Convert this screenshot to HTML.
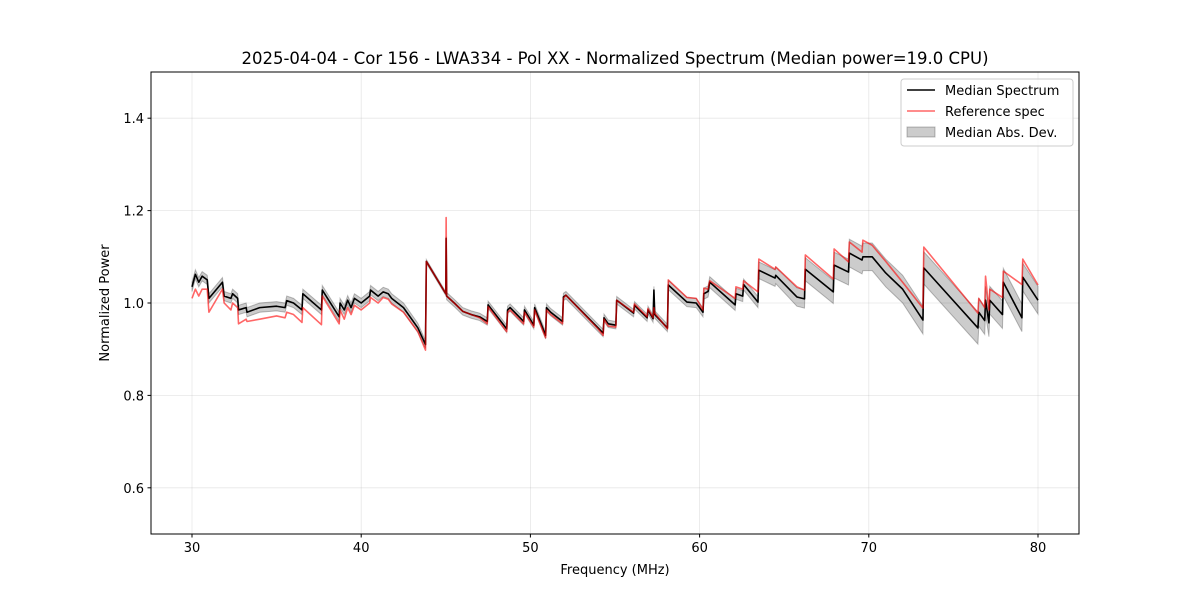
<!DOCTYPE html>
<html><head><meta charset="utf-8"><style>
body{margin:0;background:#fff;}
svg{display:block;font-family:"DejaVu Sans","Liberation Sans",sans-serif;}
</style></head><body>
<svg id="chart" width="1200" height="600">
<text x="615" y="64" text-anchor="middle" font-size="16.5">2025-04-04 - Cor 156 - LWA334 - Pol XX - Normalized Spectrum (Median power=19.0 CPU)</text>
<g id="grid"></g>
<g id="series"></g>
<rect x="151" y="72" width="928" height="462" fill="none" stroke="#000" stroke-width="1"/>
<g id="axes"></g>
<text x="615" y="574" text-anchor="middle" font-size="13">Frequency (MHz)</text>
<text transform="translate(109,303) rotate(-90)" text-anchor="middle" font-size="13">Normalized Power</text>
<g>
<rect x="901" y="79" width="172" height="67" rx="3" fill="#fff" fill-opacity="0.8" stroke="#ccc"/>
<line x1="907" y1="90" x2="935" y2="90" stroke="#000" stroke-width="1.5"/>
<text x="945" y="95" font-size="13">Median Spectrum</text>
<line x1="907" y1="111" x2="935" y2="111" stroke="#ff0000" stroke-opacity="0.6" stroke-width="1.5"/>
<text x="945" y="116" font-size="13">Reference spec</text>
<rect x="907" y="127" width="28" height="10" fill="#000" fill-opacity="0.2" stroke="#000" stroke-opacity="0.25"/>
<text x="945" y="137" font-size="13">Median Abs. Dev.</text>
</g>
</svg>
<script>
const freqs=[30.0,30.2,30.4,30.6,30.9,31.0,31.8,31.9,32.3,32.4,32.7,32.75,33.2,33.25,34.0,35.0,35.5,35.6,36.0,36.5,36.55,37.65,37.7,38.7,38.75,39.0,39.2,39.4,39.6,40.0,40.5,40.55,41.0,41.3,41.6,41.8,42.5,43.35,43.8,43.85,45.0,45.02,45.05,45.5,46.0,46.5,47.0,47.45,47.5,48.6,48.65,48.8,49.6,49.65,50.2,50.25,50.9,50.95,51.2,51.9,51.95,52.1,54.0,54.3,54.35,54.6,55.05,55.1,56.1,56.15,56.9,56.95,57.25,57.3,57.35,58.1,58.15,59.25,59.8,60.2,60.25,60.5,60.6,62.1,62.15,62.55,62.6,63.45,63.5,64.46,64.5,65.75,66.2,66.25,67.9,67.95,68.8,68.85,69.6,69.65,70.2,71.0,72.0,73.2,73.25,76.45,76.5,76.85,76.9,77.1,77.15,77.9,77.95,79.05,79.1,80.0];
const medianVals=[1.035,1.062,1.045,1.058,1.050,1.010,1.045,1.015,1.010,1.020,1.010,0.985,0.990,0.980,0.990,0.993,0.990,1.005,1.000,0.985,1.020,0.985,1.028,0.970,1.000,0.985,1.006,0.990,1.010,1.000,1.015,1.028,1.015,1.024,1.020,1.010,0.990,0.946,0.910,1.090,1.020,1.140,1.015,1.000,0.982,0.975,0.970,0.960,0.996,0.944,0.985,0.990,0.960,0.985,0.952,0.990,0.930,0.990,0.980,0.960,1.013,1.017,0.946,0.935,0.968,0.955,0.952,1.006,0.978,0.995,0.968,0.985,0.966,1.028,0.975,0.946,1.039,1.002,1.000,0.980,1.020,1.025,1.045,0.996,1.020,1.015,1.040,1.002,1.071,1.054,1.060,1.013,1.009,1.073,1.024,1.082,1.067,1.108,1.093,1.100,1.100,1.065,1.030,0.963,1.076,0.946,0.980,0.962,1.006,0.957,1.006,0.975,1.045,0.968,1.056,1.006];
const refVals=[1.010,1.030,1.015,1.030,1.030,0.980,1.030,1.000,0.985,1.000,0.990,0.955,0.965,0.960,0.965,0.972,0.968,0.980,0.975,0.958,0.990,0.953,1.015,0.955,0.985,0.965,0.990,0.975,0.995,0.985,1.000,1.012,1.000,1.012,1.008,0.998,0.980,0.938,0.898,1.090,1.020,1.185,1.015,1.000,0.982,0.975,0.968,0.955,0.992,0.938,0.980,0.985,0.955,0.980,0.948,0.985,0.925,0.985,0.975,0.955,1.010,1.017,0.944,0.930,0.965,0.950,0.948,1.006,0.980,0.998,0.970,0.988,0.968,0.990,0.978,0.944,1.050,1.012,1.010,0.985,1.032,1.030,1.048,1.010,1.035,1.030,1.048,1.024,1.095,1.073,1.078,1.035,1.028,1.104,1.052,1.117,1.089,1.132,1.110,1.136,1.125,1.090,1.045,0.989,1.121,0.978,1.010,0.990,1.058,0.985,1.030,1.012,1.069,1.040,1.095,1.039];
const madVals=[0.010,0.010,0.010,0.010,0.010,0.010,0.010,0.010,0.010,0.010,0.010,0.010,0.010,0.010,0.010,0.010,0.010,0.010,0.010,0.010,0.010,0.010,0.010,0.010,0.010,0.010,0.010,0.010,0.010,0.010,0.010,0.010,0.010,0.010,0.010,0.010,0.010,0.010,0.008,0.004,0.004,0.004,0.008,0.008,0.008,0.008,0.008,0.008,0.008,0.008,0.008,0.008,0.008,0.008,0.008,0.008,0.008,0.008,0.008,0.008,0.008,0.008,0.008,0.008,0.008,0.008,0.008,0.008,0.008,0.008,0.008,0.008,0.008,0.008,0.008,0.008,0.010,0.010,0.010,0.010,0.012,0.012,0.012,0.012,0.012,0.012,0.012,0.012,0.018,0.018,0.018,0.020,0.020,0.025,0.025,0.028,0.028,0.030,0.030,0.030,0.030,0.030,0.030,0.030,0.035,0.035,0.030,0.030,0.030,0.030,0.030,0.030,0.030,0.030,0.030,0.030];
const xTicks=[30,40,50,60,70,80];
const yTicks=[0.6,0.8,1.0,1.2,1.4];

const NS='http://www.w3.org/2000/svg';
const X0=151,X1=1079,Y0=72,Y1=534;
function xs(f){return 192+(f-30)*(1038-192)/50;}
function ys(v){return Y1-(v-0.5)*(Y1-Y0)/1.0;}
function mk(tag,attrs,parent){const e=document.createElementNS(NS,tag);for(const k in attrs)e.setAttribute(k,attrs[k]);parent.appendChild(e);return e;}
const grid=document.getElementById('grid'),axes=document.getElementById('axes'),series=document.getElementById('series');
xTicks.forEach(t=>{const x=xs(t);
 const g=mk('line',{x1:x,x2:x,y1:Y0,y2:Y1,stroke:'#b0b0b0','stroke-opacity':0.3,'stroke-width':0.8},grid);
 
 
 const tk=mk('line',{x1:x,x2:x,y1:Y1,y2:Y1+3.5,stroke:'#000'},axes);
 
 
 const tx=mk('text',{x:x,y:Y1+18,'text-anchor':'middle','font-size':13},axes);tx.textContent=t;
 
 
});
yTicks.forEach(t=>{const y=ys(t);
 const g=mk('line',{x1:X0,x2:X1,y1:y,y2:y,stroke:'#b0b0b0','stroke-opacity':0.3,'stroke-width':0.8},grid);
 
 
 const tk=mk('line',{x1:X0-3.5,x2:X0,y1:y,y2:y,stroke:'#000'},axes);
 
 
 const tx=mk('text',{x:X0-7,y:y+5,'text-anchor':'end','font-size':13},axes);tx.textContent=t.toFixed(1);
 
 
});
let up=[],dn=[];
for(let i=0;i<freqs.length;i++){up.push(xs(freqs[i])+','+ys(medianVals[i]+madVals[i]));dn.unshift(xs(freqs[i])+','+ys(medianVals[i]-madVals[i]));}
const band=mk('polygon',{points:up.concat(dn).join(' '),fill:'#000','fill-opacity':0.2,stroke:'#000','stroke-opacity':0.25,'stroke-width':1},series);


const mp=freqs.map((f,i)=>xs(f)+','+ys(medianVals[i])).join(' ');
const ml=mk('polyline',{points:mp,fill:'none',stroke:'#000','stroke-width':1.6,'stroke-linejoin':'round'},series);


const rp=freqs.map((f,i)=>xs(f)+','+ys(refVals[i])).join(' ');
const rl=mk('polyline',{points:rp,fill:'none',stroke:'#ff0000','stroke-opacity':0.6,'stroke-width':1.6,'stroke-linejoin':'round'},series);


</script>
</body></html>
